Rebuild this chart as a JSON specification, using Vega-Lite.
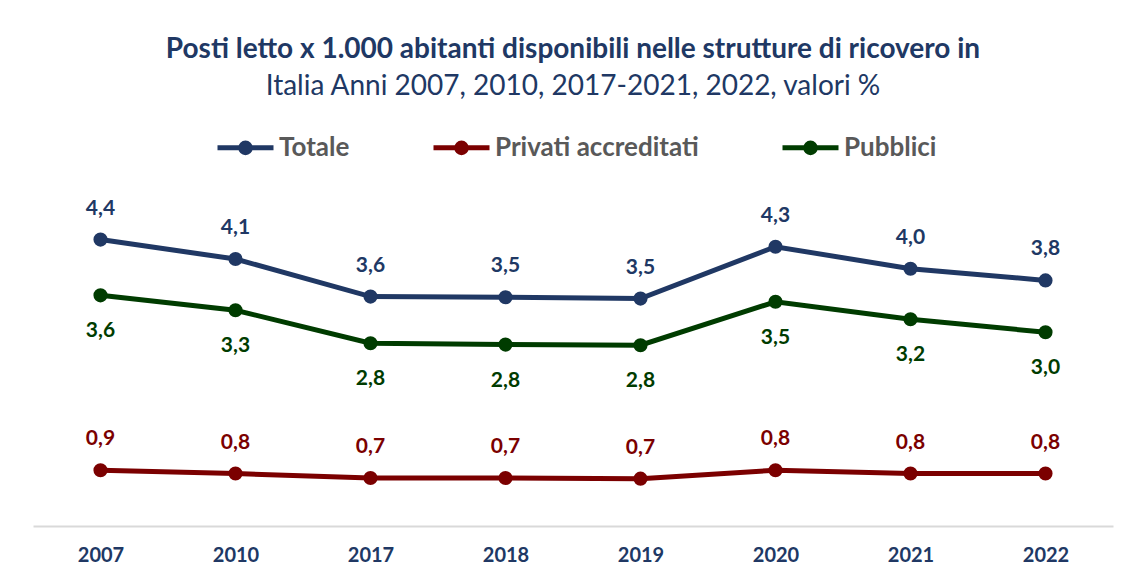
{
  "$schema": "https://vega.github.io/schema/vega-lite/v6.json",
  "width": 1080,
  "height": 324,
  "autosize": {"type": "none"},
  "padding": {"left": 33, "top": 202, "right": 17, "bottom": 59},
  "background": "white",
  "config": {"view": {"stroke": null}},
  "title": {
    "text": "Posti letto x 1.000 abitanti disponibili nelle strutture di ricovero in",
    "subtitle": "Italia Anni 2007, 2010, 2017-2021, 2022, valori %",
    "anchor": "middle",
    "font": "Lato",
    "fontSize": 28,
    "fontWeight": "bold",
    "color": "#203864",
    "subtitleFont": "Lato",
    "subtitleFontSize": 28,
    "subtitleColor": "#203864",
    "subtitlePadding": 9,
    "offset": 16
  },
  "data": {
    "values": [
      {"anno": "2007", "serie": "Totale", "valore": 4.42, "etichetta": "4,4"},
      {"anno": "2010", "serie": "Totale", "valore": 4.12, "etichetta": "4,1"},
      {"anno": "2017", "serie": "Totale", "valore": 3.54, "etichetta": "3,6"},
      {"anno": "2018", "serie": "Totale", "valore": 3.53, "etichetta": "3,5"},
      {"anno": "2019", "serie": "Totale", "valore": 3.51, "etichetta": "3,5"},
      {"anno": "2020", "serie": "Totale", "valore": 4.31, "etichetta": "4,3"},
      {"anno": "2021", "serie": "Totale", "valore": 3.97, "etichetta": "4,0"},
      {"anno": "2022", "serie": "Totale", "valore": 3.79, "etichetta": "3,8"},
      {"anno": "2007", "serie": "Privati accreditati", "valore": 0.86, "etichetta": "0,9"},
      {"anno": "2010", "serie": "Privati accreditati", "valore": 0.81, "etichetta": "0,8"},
      {"anno": "2017", "serie": "Privati accreditati", "valore": 0.74, "etichetta": "0,7"},
      {"anno": "2018", "serie": "Privati accreditati", "valore": 0.74, "etichetta": "0,7"},
      {"anno": "2019", "serie": "Privati accreditati", "valore": 0.73, "etichetta": "0,7"},
      {"anno": "2020", "serie": "Privati accreditati", "valore": 0.86, "etichetta": "0,8"},
      {"anno": "2021", "serie": "Privati accreditati", "valore": 0.81, "etichetta": "0,8"},
      {"anno": "2022", "serie": "Privati accreditati", "valore": 0.81, "etichetta": "0,8"},
      {"anno": "2007", "serie": "Pubblici", "valore": 3.56, "etichetta": "3,6"},
      {"anno": "2010", "serie": "Pubblici", "valore": 3.33, "etichetta": "3,3"},
      {"anno": "2017", "serie": "Pubblici", "valore": 2.82, "etichetta": "2,8"},
      {"anno": "2018", "serie": "Pubblici", "valore": 2.80, "etichetta": "2,8"},
      {"anno": "2019", "serie": "Pubblici", "valore": 2.79, "etichetta": "2,8"},
      {"anno": "2020", "serie": "Pubblici", "valore": 3.46, "etichetta": "3,5"},
      {"anno": "2021", "serie": "Pubblici", "valore": 3.19, "etichetta": "3,2"},
      {"anno": "2022", "serie": "Pubblici", "valore": 2.99, "etichetta": "3,0"}
    ]
  },
  "encoding": {
    "x": {
      "field": "anno",
      "type": "ordinal",
      "sort": null,
      "scale": {"padding": 0.5},
      "axis": {
        "title": null,
        "labelAngle": 0,
        "ticks": false,
        "domainColor": "#D9D9D9",
        "domainWidth": 2,
        "labelFont": "Lato",
        "labelFontSize": 20,
        "labelFontWeight": "bold",
        "labelColor": "#203864",
        "labelPadding": 19
      }
    },
    "y": {
      "field": "valore",
      "type": "quantitative",
      "scale": {"domain": [0, 5]},
      "axis": null
    },
    "color": {
      "field": "serie",
      "type": "nominal",
      "scale": {
        "domain": ["Totale", "Privati accreditati", "Pubblici"],
        "range": ["#203864", "#7B0000", "#003C00"]
      },
      "legend": {
        "orient": "none",
        "legendX": 182,
        "legendY": -85,
        "direction": "horizontal",
        "title": null,
        "symbolType": "M-1,0H1M-0.17,0A0.17,0.17 0 1,1 0.17,0A0.17,0.17 0 1,1 -0.17,0Z",
        "symbolSize": 3136,
        "symbolStrokeWidth": 5,
        "symbolOpacity": 1,
        "labelFont": "Lato",
        "labelFontSize": 26,
        "labelFontWeight": "bold",
        "labelColor": "#595959",
        "labelLimit": 0,
        "labelOffset": 3,
        "columnPadding": 73,
        "encode": {
          "symbols": {
            "update": {
              "fill": {"scale": "color", "field": "value"},
              "stroke": {"scale": "color", "field": "value"},
              "opacity": {"value": 1}
            }
          }
        }
      }
    }
  },
  "layer": [
    {"mark": {"type": "line", "strokeWidth": 5}},
    {"mark": {"type": "point", "filled": true, "size": 200, "opacity": 1}},
    {
      "transform": [{"filter": "datum.serie !== 'Pubblici'"}],
      "mark": {"type": "text", "dy": -31, "font": "Lato", "fontWeight": "bold", "fontSize": 21},
      "encoding": {"text": {"field": "etichetta"}}
    },
    {
      "transform": [{"filter": "datum.serie === 'Pubblici'"}],
      "mark": {"type": "text", "dy": 36, "font": "Lato", "fontWeight": "bold", "fontSize": 21},
      "encoding": {"text": {"field": "etichetta"}}
    }
  ]
}
